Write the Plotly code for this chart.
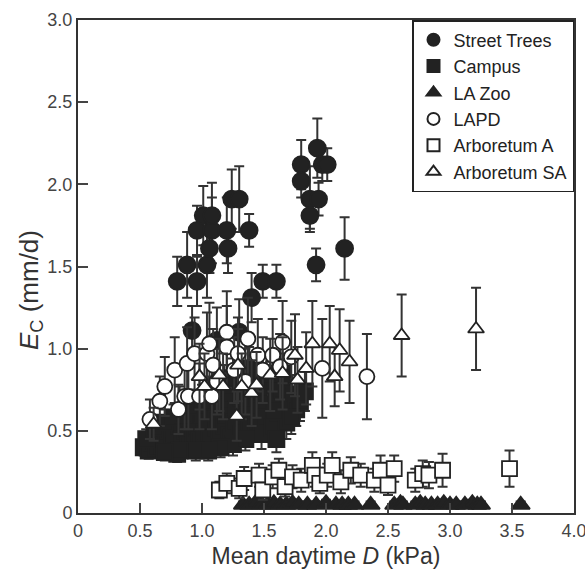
import plotly.graph_objects as go

# ---------------- data ----------------
street_x = [0.80, 0.88, 0.92, 0.96, 0.96, 1.01, 1.04, 1.06, 1.08, 1.08, 1.20, 1.21, 1.24, 1.30,
            1.38, 1.40, 1.49, 1.60, 1.80, 1.80, 1.87, 1.87, 1.92, 1.93, 1.94, 1.97, 2.01, 2.15,
            1.12, 1.30, 0.82]
street_y = [1.41, 1.51, 1.11, 1.41, 1.72, 1.81, 1.51, 1.61, 1.72, 1.81, 1.72, 1.61, 1.91, 1.91,
            1.72, 1.31, 1.41, 1.41, 2.12, 2.02, 1.91, 1.81, 1.51, 2.22, 1.91, 2.12, 2.12, 1.61,
            1.05, 1.10, 0.62]
street_err = [0.15, 0.20, 0.15, 0.15, 0.15, 0.18, 0.20, 0.15, 0.20, 0.20, 0.20, 0.15, 0.18, 0.20,
              0.10, 0.15, 0.10, 0.10, 0.15, 0.10, 0.20, 0.08, 0.10, 0.18, 0.10, 0.10, 0.10, 0.19,
              0.20, 0.20, 0.15]

campus_x = [0.53, 0.57, 0.60, 0.63, 0.66, 0.68, 0.71, 0.73, 0.76, 0.78, 0.80, 0.82, 0.84, 0.87,
            0.89, 0.91, 0.93, 0.96, 0.98, 1.00, 1.02, 1.04, 1.06, 1.08, 1.10, 1.12, 1.14, 1.16,
            1.18, 1.20, 1.22, 1.24, 1.26, 1.28, 1.30, 1.32, 1.34, 1.36, 1.38, 1.40, 1.42, 1.44,
            1.46, 1.48, 1.50, 1.52, 1.55, 1.57, 1.60, 1.62, 1.65, 1.68, 1.70, 1.73, 1.76, 1.79,
            1.83, 0.95, 1.25, 1.60, 0.82,
            0.55, 0.62, 0.70, 0.77, 0.85, 0.90, 1.00, 1.05, 1.10, 1.18, 1.25, 1.32, 1.38, 1.45,
            1.52, 1.58, 1.65, 1.72, 1.15, 1.35, 1.05, 0.70]
campus_y = [0.40, 0.38, 0.43, 0.40, 0.47, 0.41, 0.44, 0.50, 0.42, 0.47, 0.36, 0.53, 0.45, 0.50,
            0.41, 0.57, 0.47, 0.52, 0.44, 0.60, 0.49, 0.55, 0.45, 0.63, 0.51, 0.57, 0.46, 0.67,
            0.53, 0.60, 0.47, 0.72, 0.55, 0.63, 0.49, 0.78, 0.58, 0.68, 0.51, 0.84, 0.62, 0.55,
            0.73, 0.48, 0.66, 0.58, 0.80, 0.52, 0.70, 0.61, 0.75, 0.55, 0.66, 0.72, 0.63, 0.68,
            0.74, 0.38, 0.42, 0.45, 0.38,
            0.45, 0.52, 0.55, 0.58, 0.60, 0.65, 0.68, 0.72, 0.75, 0.78, 0.82, 0.70, 0.88, 0.80,
            0.85, 0.62, 0.85, 0.58, 0.40, 0.45, 0.38, 0.37]
campus_err = [0.05, 0.05, 0.05, 0.06, 0.06, 0.05, 0.05, 0.06, 0.05, 0.06, 0.05, 0.07, 0.06, 0.07,
              0.06, 0.08, 0.06, 0.07, 0.06, 0.09, 0.07, 0.08, 0.07, 0.10, 0.08, 0.08, 0.07, 0.10,
              0.08, 0.09, 0.07, 0.10, 0.08, 0.09, 0.08, 0.12, 0.09, 0.10, 0.08, 0.12, 0.10, 0.09,
              0.11, 0.09, 0.10, 0.10, 0.12, 0.09, 0.11, 0.10, 0.12, 0.10, 0.11, 0.12, 0.10, 0.12,
              0.12, 0.06, 0.07, 0.08, 0.05,
              0.06, 0.07, 0.08, 0.08, 0.09, 0.10, 0.10, 0.11, 0.12, 0.12, 0.12, 0.10, 0.13, 0.12,
              0.12, 0.10, 0.12, 0.10, 0.06, 0.07, 0.06, 0.05]

zoo_x = [1.33, 1.38, 1.43, 1.48, 1.53, 1.58, 1.63, 1.68, 1.73, 1.78, 1.85, 1.92, 2.00, 2.08,
         2.13, 2.18, 2.23, 2.36, 2.55, 2.60, 2.62, 2.72, 2.76, 2.80, 2.85, 2.90, 2.95, 3.00,
         3.05, 3.12, 3.18, 3.22, 3.25, 3.57]
zoo_y = [0.05, 0.05, 0.06, 0.05, 0.05, 0.06, 0.05, 0.05, 0.06, 0.05, 0.05, 0.05, 0.06, 0.05,
         0.05, 0.05, 0.05, 0.05, 0.05, 0.06, 0.05, 0.05, 0.06, 0.05, 0.05, 0.05, 0.06, 0.05,
         0.05, 0.05, 0.06, 0.05, 0.05, 0.05]
zoo_err = [0.02] * len(zoo_x)

lapd_x = [0.58, 0.66, 0.70, 0.78, 0.81, 0.86, 0.88, 0.89, 0.94, 0.98, 1.04, 1.06, 1.08, 1.09,
          1.20, 1.20, 1.26, 1.29, 1.37, 1.45, 1.49, 1.57, 1.63, 1.65, 1.97, 2.33, 1.12, 1.35,
          1.72]
lapd_y = [0.57, 0.68, 0.77, 0.87, 0.63, 0.71, 0.91, 0.71, 0.97, 0.71, 0.97, 1.03, 0.71, 0.90,
          1.10, 1.01, 0.87, 0.97, 1.06, 0.96, 0.87, 0.96, 0.89, 1.04, 0.88, 0.83, 0.80, 0.80,
          0.95]
lapd_err = [0.12, 0.15, 0.18, 0.20, 0.15, 0.20, 0.22, 0.20, 0.22, 0.20, 0.25, 0.25, 0.20, 0.22,
            0.25, 0.25, 0.20, 0.22, 0.25, 0.22, 0.20, 0.22, 0.20, 0.25, 0.30, 0.26, 0.20, 0.20,
            0.22]

arbA_x = [1.14, 1.20, 1.30, 1.34, 1.46, 1.49, 1.57, 1.62, 1.67, 1.73, 1.80, 1.89, 1.91, 1.95,
          2.01, 2.05, 2.12, 2.20, 2.28, 2.39, 2.44, 2.50, 2.55, 2.72, 2.78, 2.83, 2.94, 3.48]
arbA_y = [0.14, 0.18, 0.15, 0.21, 0.23, 0.14, 0.22, 0.26, 0.16, 0.22, 0.20, 0.29, 0.23, 0.18,
          0.23, 0.29, 0.19, 0.26, 0.23, 0.20, 0.26, 0.17, 0.27, 0.20, 0.24, 0.23, 0.26, 0.27]
arbA_err = [0.05, 0.06, 0.06, 0.07, 0.07, 0.06, 0.07, 0.07, 0.06, 0.07, 0.07, 0.08, 0.07, 0.06,
            0.07, 0.08, 0.07, 0.08, 0.07, 0.07, 0.09, 0.06, 0.08, 0.07, 0.08, 0.08, 0.10, 0.11]

arbSA_x = [0.61, 0.98, 1.02, 1.14, 1.17, 1.28, 1.29, 1.32, 1.40, 1.44, 1.55, 1.65, 1.75, 1.77,
           1.84, 1.89, 2.03, 2.07, 2.11, 2.19, 2.61, 3.21]
arbSA_y = [0.54, 0.83, 0.77, 0.84, 0.77, 0.59, 0.90, 0.77, 0.73, 0.78, 0.84, 0.85, 0.96, 0.81,
           0.88, 1.03, 1.03, 0.83, 0.99, 0.92, 1.08, 1.12]
arbSA_err = [0.10, 0.20, 0.20, 0.22, 0.20, 0.15, 0.22, 0.20, 0.20, 0.20, 0.22, 0.22, 0.25, 0.20,
             0.22, 0.26, 0.23, 0.18, 0.25, 0.25, 0.25, 0.25]

x_ticks = [0, 0.5, 1.0, 1.5, 2.0, 2.5, 3.0, 3.5, 4.0]
x_tick_text = ["0", "0.5", "1.0", "1.5", "2.0", "2.5", "3.0", "3.5", "4.0"]
y_ticks = [0, 0.5, 1.0, 1.5, 2.0, 2.5, 3.0]
y_tick_text = ["0", "0.5", "1.0", "1.5", "2.0", "2.5", "3.0"]

# ---------------- figure ----------------
INK = "#222222"
FONT = "Liberation Sans, Arial, Helvetica, sans-serif"

series = [
    ("Street Trees", street_x, street_y, street_err, "circle", 17, INK),
    ("Campus", campus_x, campus_y, campus_err, "square", 16, INK),
    ("LA Zoo", zoo_x, zoo_y, zoo_err, "triangle-up", 16, INK),
    ("LAPD", lapd_x, lapd_y, lapd_err, "circle", 15, "white"),
    ("Arboretum A", arbA_x, arbA_y, arbA_err, "square", 15, "white"),
    ("Arboretum SA", arbSA_x, arbSA_y, arbSA_err, "triangle-up", 14, "white"),
]

fig = go.Figure()
for name, xs, ys, es, sym, size, fill in series:
    fig.add_trace(go.Scatter(
        x=xs, y=ys, name=name, mode="markers",
        marker=dict(symbol=sym, size=size, color=fill,
                    line=dict(color=INK, width=1.8)),
        error_y=dict(type="data", array=es, visible=True,
                     color="#333333", thickness=2, width=5),
    ))

fig.update_layout(
    width=585, height=574,
    margin=dict(l=78, r=11, t=20, b=61, autoexpand=False),
    paper_bgcolor="white", plot_bgcolor="white",
    font=dict(family=FONT, color="#333333", size=18),
    showlegend=True,
    legend=dict(x=1, xanchor="right", y=1, yanchor="top",
                bgcolor="white", bordercolor=INK, borderwidth=1.5,
                font=dict(size=18, color="#222222"),
                entrywidth=128, entrywidthmode="pixels",
                itemsizing="constant"),
    xaxis=dict(range=[0, 4.0], tickvals=x_ticks, ticktext=x_tick_text,
               ticks="inside", ticklen=10, tickwidth=1.5, tickcolor="#444",
               showline=True, linecolor="#333", linewidth=2, mirror=True,
               showgrid=False, zeroline=False, automargin=False,
               ticklabeloverflow="allow",
               tickfont=dict(size=18, color="#444"),
               title=dict(text="Mean daytime <i>D</i> (kPa)",
                          font=dict(size=23, color="#333"), standoff=8)),
    yaxis=dict(range=[0, 3.0], tickvals=y_ticks, ticktext=y_tick_text,
               ticks="inside", ticklen=10, tickwidth=1.5, tickcolor="#444",
               showline=True, linecolor="#333", linewidth=2, mirror=True,
               showgrid=False, zeroline=False, automargin=False,
               tickfont=dict(size=18, color="#444")),
    annotations=[dict(text="<i>E</i><sub>C</sub> (mm/d)", textangle=-90,
                      xref="paper", yref="paper", x=-0.097, y=0.452,
                      xanchor="center", yanchor="middle", showarrow=False,
                      font=dict(size=26, color="#333"))],
)

fig.write_html("out.html")
